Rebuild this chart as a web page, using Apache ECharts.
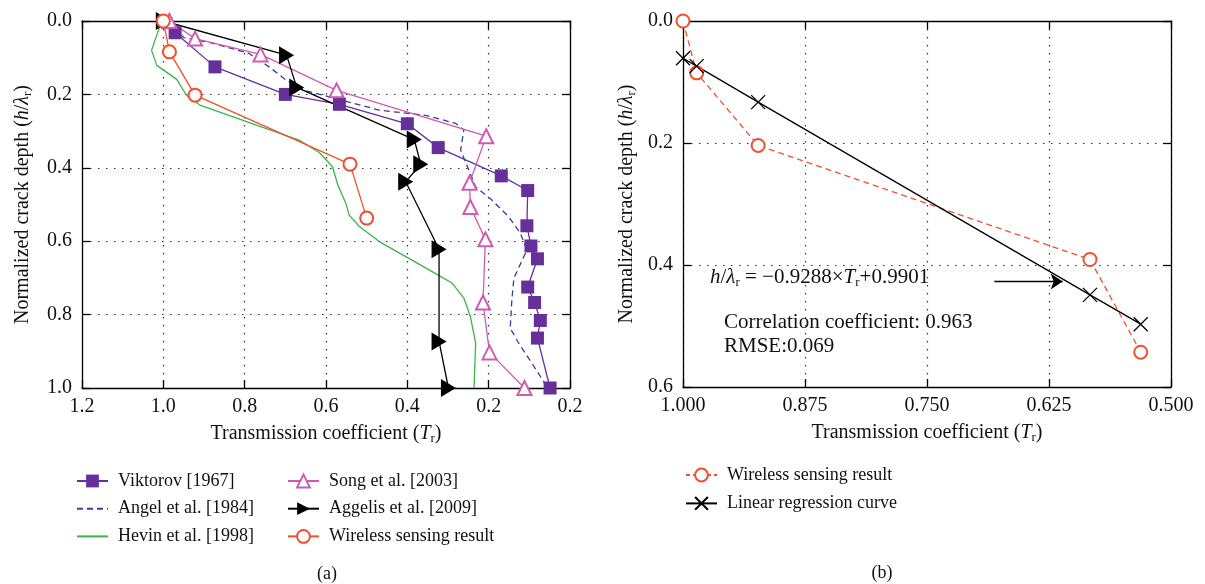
<!DOCTYPE html>
<html>
<head>
<meta charset="utf-8">
<script src="https://cdn.jsdelivr.net/npm/echarts@6/dist/echarts.min.js"></script>
<style>
html,body{margin:0;padding:0;background:#fff}
#main{width:1205px;height:584px}
</style>
</head>
<body>
<div id="main"></div>
<script>
// (a) transmission coefficient vs normalized crack depth, [T, h/lambda]
var viktorov = [[0.971,0.032],[0.873,0.125],[0.700,0.200],[0.567,0.227],[0.400,0.280],[0.324,0.345],[0.169,0.422],[0.104,0.462],[0.106,0.558],[0.096,0.613],[0.080,0.648],[0.104,0.725],[0.087,0.767],[0.073,0.816],[0.080,0.864],[0.049,1.000]];
var angel = [[0.993,0.000],[0.950,0.045],[0.880,0.060],[0.790,0.088],[0.740,0.125],[0.698,0.161],[0.650,0.190],[0.567,0.214],[0.469,0.243],[0.355,0.257],[0.281,0.279],[0.261,0.297],[0.269,0.352],[0.232,0.452],[0.192,0.488],[0.151,0.533],[0.122,0.578],[0.106,0.624],[0.138,0.701],[0.143,0.760],[0.147,0.837],[0.126,0.878],[0.094,0.932],[0.057,0.996]];
var hevin = [[1.008,0.012],[1.029,0.080],[1.016,0.121],[0.967,0.159],[0.943,0.203],[0.910,0.229],[0.665,0.325],[0.616,0.359],[0.584,0.397],[0.571,0.447],[0.551,0.497],[0.543,0.529],[0.518,0.560],[0.469,0.601],[0.339,0.683],[0.290,0.714],[0.261,0.755],[0.245,0.805],[0.232,0.878],[0.236,1.000]];
var song = [[0.985,0.000],[0.922,0.048],[0.761,0.091],[0.574,0.189],[0.206,0.314],[0.247,0.441],[0.245,0.507],[0.208,0.595],[0.214,0.767],[0.198,0.903],[0.112,1.000]];
var aggelis = [[1.000,0.000],[0.697,0.093],[0.672,0.181],[0.383,0.323],[0.367,0.390],[0.404,0.438],[0.322,0.622],[0.322,0.873],[0.299,1.000]];
var wirelessA = [[1.000,0.000],[0.985,0.084],[0.922,0.202],[0.541,0.390],[0.500,0.537]];

// (b) wireless result and linear regression
var wirelessB = [[1.000,0.000],[0.986,0.085],[0.923,0.204],[0.583,0.391],[0.531,0.543]];
var regression = [[1.000,0.061],[0.986,0.074],[0.923,0.133],[0.583,0.449],[0.531,0.497]];
var regressionArrow = [[0.681,0.427],[0.611,0.427]];

// tick labels as printed (last one on (a) really reads 0.2)
var xTicksA = ['0.2','0.2','0.4','0.6','0.8','1.0','1.2'];

var chart = echarts.init(document.getElementById('main'), null, {renderer:'canvas'});
var serif = 'Liberation Serif';
var ink = '#111';

var rich = {
  n: {fontFamily: serif, fontSize: 20, color: ink},
  i: {fontFamily: serif, fontSize: 20, fontStyle: 'italic', color: ink},
  s: {fontFamily: serif, fontSize: 13, color: ink, padding: [10, 0, 0, 0]}
};

function axis(grid, pos, min, max, step, opts) {
  var a = {
    type: 'value', gridIndex: grid, position: pos,
    min: min, max: max, interval: step, inverse: true,
    axisLine: {show: true, onZero: false, lineStyle: {color: '#000', width: 1.3}},
    axisTick: {show: true, inside: true, length: 8, lineStyle: {color: '#000', width: 1.3}},
    axisLabel: {show: false},
    splitLine: {show: false}
  };
  for (var k in opts) a[k] = opts[k];
  return a;
}
var grid_line = {show: true, lineStyle: {color: '#333', width: 1.2, type: [1.5, 6.5]}};
var tickFont = {fontFamily: serif, fontSize: 20, color: ink};
var legendText = {fontFamily: serif, fontSize: 18, color: ink, padding: [0, 0, 0, 5]};
// line-only legend entries: hide the symbol the legend would add
var noMark = {color: 'rgba(0,0,0,0)', borderColor: 'rgba(0,0,0,0)', borderWidth: 0, opacity: 0};

var option = {
  backgroundColor: '#ffffff',
  animation: false,
  grid: [
    {left: 82, top: 21, width: 488, height: 367},
    {left: 683, top: 21, width: 488, height: 366}
  ],
  xAxis: [
    axis(0, 'bottom', 0, 1.2, 0.2, {
      axisLabel: Object.assign({show: true, margin: 9, formatter: function (v) { return xTicksA[Math.round(v / 0.2)]; }}, tickFont),
      splitLine: grid_line,
      name: '{n|Transmission coefficient (}{i|T}{s|r}{n|)}',
      nameLocation: 'middle', nameGap: 34, nameTextStyle: {rich: rich}
    }),
    axis(0, 'top', 0, 1.2, 0.2, {}),
    axis(1, 'bottom', 0.5, 1.0, 0.125, {
      axisLabel: Object.assign({show: true, margin: 9, formatter: function (v) { return v.toFixed(3); }}, tickFont),
      splitLine: grid_line,
      name: '{n|Transmission coefficient (}{i|T}{s|r}{n|)}',
      nameLocation: 'middle', nameGap: 34, nameTextStyle: {rich: rich}
    }),
    axis(1, 'top', 0.5, 1.0, 0.125, {})
  ],
  yAxis: [
    axis(0, 'left', 0, 1.0, 0.2, {
      axisLabel: Object.assign({show: true, margin: 10, formatter: function (v) { return v.toFixed(1); }}, tickFont),
      splitLine: grid_line,
      name: '{n|Normalized crack depth (}{i|h}{n|/}{i|λ}{s|r}{n|)}',
      nameLocation: 'middle', nameGap: 48, nameRotate: 90, nameTextStyle: {rich: rich}
    }),
    axis(0, 'right', 0, 1.0, 0.2, {}),
    axis(1, 'left', 0, 0.6, 0.2, {
      axisLabel: Object.assign({show: true, margin: 10, formatter: function (v) { return v.toFixed(1); }}, tickFont),
      splitLine: grid_line,
      name: '{n|Normalized crack depth (}{i|h}{n|/}{i|λ}{s|r}{n|)}',
      nameLocation: 'middle', nameGap: 45, nameRotate: 90, nameTextStyle: {rich: rich}
    }),
    axis(1, 'right', 0, 0.6, 0.2, {})
  ],
  legend: [
    {
      orient: 'vertical', left: 71, top: 467, itemWidth: 31, itemHeight: 16, itemGap: 9.7,
      textStyle: legendText,
      data: ['Viktorov [1967]', {name: 'Angel et al. [1984]', itemStyle: noMark}, {name: 'Hevin et al. [1998]', itemStyle: noMark}]
    },
    {
      orient: 'vertical', left: 282, top: 467, itemWidth: 31, itemHeight: 16, itemGap: 9.7,
      textStyle: legendText,
      data: ['Song et al. [2003]', 'Aggelis et al. [2009]', 'Wireless sensing result']
    },
    {
      orient: 'vertical', left: 680, top: 461, itemWidth: 31, itemHeight: 16, itemGap: 10.4,
      textStyle: legendText,
      data: [{name: 'Wireless sensing result', lineStyle: {type: [4, 3]}}, 'Linear regression curve']
    }
  ],
  series: [
    {
      name: 'Viktorov [1967]', type: 'line', xAxisIndex: 0, yAxisIndex: 0, data: viktorov,
      symbol: 'rect', symbolSize: 13,
      itemStyle: {color: '#66309a'}, lineStyle: {color: '#66309a', width: 1.3}
    },
    {
      name: 'Angel et al. [1984]', type: 'line', xAxisIndex: 0, yAxisIndex: 0, data: angel,
      symbol: 'none',
      itemStyle: {color: '#3b3b9e'}, lineStyle: {color: '#3b3b9e', width: 1.3, type: [6, 4]}
    },
    {
      name: 'Hevin et al. [1998]', type: 'line', xAxisIndex: 0, yAxisIndex: 0, data: hevin,
      symbol: 'none',
      itemStyle: {color: '#3cb44a'}, lineStyle: {color: '#3cb44a', width: 1.3}
    },
    {
      name: 'Song et al. [2003]', type: 'line', xAxisIndex: 0, yAxisIndex: 0, data: song,
      symbol: 'emptyTriangle', symbolSize: 14,
      itemStyle: {color: '#d05ab2', borderWidth: 1.3}, lineStyle: {color: '#d05ab2', width: 1.3}
    },
    {
      name: 'Aggelis et al. [2009]', type: 'line', xAxisIndex: 0, yAxisIndex: 0, data: aggelis,
      symbol: 'path://M0,0L10,6L0,12Z', symbolSize: [15, 18],
      itemStyle: {color: '#000'}, lineStyle: {color: '#000', width: 1.3}
    },
    {
      name: 'Wireless sensing result', type: 'line', xAxisIndex: 0, yAxisIndex: 0, data: wirelessA,
      symbol: 'emptyCircle', symbolSize: 13,
      itemStyle: {color: '#f0502d', borderWidth: 1.3}, lineStyle: {color: '#f0502d', width: 1.3}
    },
    {
      name: 'Wireless sensing result', type: 'line', xAxisIndex: 2, yAxisIndex: 2, data: wirelessB,
      symbol: 'emptyCircle', symbolSize: 13,
      itemStyle: {color: '#f0502d', borderWidth: 1.3}, lineStyle: {color: '#f0502d', width: 1.3, type: [6, 4]}
    },
    {
      name: 'Linear regression curve', type: 'line', xAxisIndex: 2, yAxisIndex: 2, data: regression,
      symbol: 'path://M0,0L10,10M10,0L0,10', symbolSize: 14,
      itemStyle: {color: '#000', borderColor: '#000', borderWidth: 1.3}, lineStyle: {color: '#000', width: 1.3},
      markLine: {
        silent: true, symbol: ['none', 'arrow'], symbolSize: 12,
        lineStyle: {color: '#000', width: 1.3, type: 'solid'}, label: {show: false},
        data: [[{coord: regressionArrow[0]}, {coord: regressionArrow[1]}]]
      }
    }
  ],
  graphic: [
    {type: 'text', x: 710, y: 277, style: {
      text: '{i|h}/{i|λ}{s|r} = −0.9288×{i|T}{s|r}+0.9901', verticalAlign: 'middle',
      fontFamily: serif, fontSize: 21, fill: ink,
      rich: {i: {fontFamily: serif, fontSize: 21, fontStyle: 'italic', color: ink}, s: {fontFamily: serif, fontSize: 13, color: ink, padding: [11, 0, 0, 0]}}
    }},
    {type: 'text', x: 724, y: 322, style: {text: 'Correlation coefficient: 0.963', verticalAlign: 'middle', fontFamily: serif, fontSize: 21, fill: ink}},
    {type: 'text', x: 724, y: 346, style: {text: 'RMSE:0.069', verticalAlign: 'middle', fontFamily: serif, fontSize: 21, fill: ink}},
    {type: 'text', x: 327, y: 574, style: {text: '(a)', align: 'center', verticalAlign: 'middle', fontFamily: serif, fontSize: 18, fill: ink}},
    {type: 'text', x: 882, y: 573, style: {text: '(b)', align: 'center', verticalAlign: 'middle', fontFamily: serif, fontSize: 18, fill: ink}}
  ]
};

chart.setOption(option);
</script>
</body>
</html>
